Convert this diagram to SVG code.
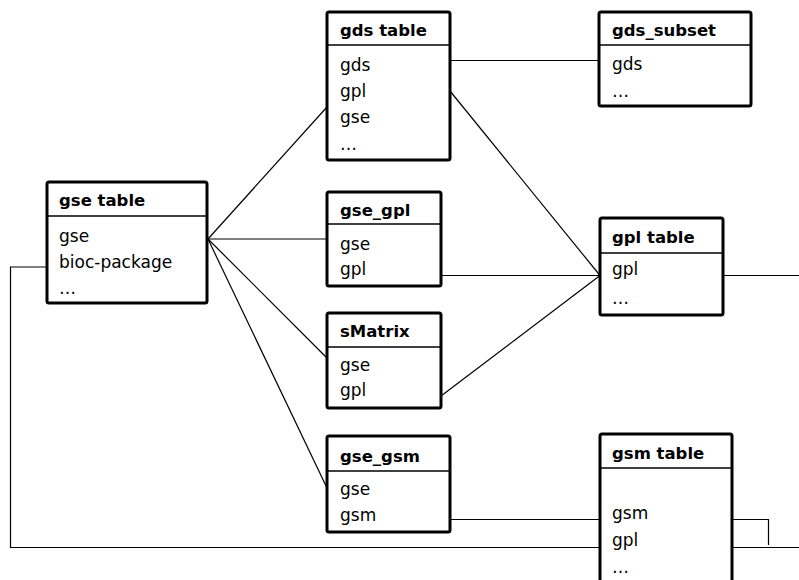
<svg xmlns="http://www.w3.org/2000/svg" width="799" height="580" viewBox="0 0 799 580">
<style>
.box{fill:#fff;stroke:#000;stroke-width:3;}
.div{stroke:#000;stroke-width:1.5;}
.t{font-family:"DejaVu Sans",sans-serif;font-size:16.5px;font-weight:bold;fill:#000;}
.f{font-family:"DejaVu Sans",sans-serif;font-size:17px;fill:#000;}
.c{fill:none;stroke:#000;stroke-width:1.2;}
</style>
<rect width="799" height="580" fill="#fff"/>
<g id="connectors">
<path class="c" d="M47,267 H10.5 V547.5 H600"/>
<path class="c" d="M732,547.5 H799"/>
<path class="c" d="M732,519.5 H768.5 V545"/>
<path class="c" d="M450,519.5 H600"/>
<path class="c" d="M450,60.5 H599"/>
<path class="c" d="M208,239 L327,107"/>
<path class="c" d="M208,239 H327"/>
<path class="c" d="M208,239 L327,358"/>
<path class="c" d="M208,239 L327,488"/>
<path class="c" d="M450,91 L600,275.5"/>
<path class="c" d="M441,275.5 H600"/>
<path class="c" d="M441,396 L600,275.5"/>
<path class="c" d="M723,275.5 H799"/>
</g>
<g id="gse_table">
<rect class="box" x="47" y="182" width="160" height="121" rx="2"/>
<line class="div" x1="47" y1="216" x2="207" y2="216"/>
<text class="t" x="59" y="206">gse table</text>
<text class="f" x="59" y="242">gse</text>
<text class="f" x="59" y="268">bioc-package</text>
<text class="f" x="59" y="294">…</text>
</g>
<g id="gds_table">
<rect class="box" x="327" y="12" width="123" height="148" rx="2"/>
<line class="div" x1="327" y1="45" x2="450" y2="45"/>
<text class="t" x="340" y="36">gds table</text>
<text class="f" x="340" y="71">gds</text>
<text class="f" x="340" y="97">gpl</text>
<text class="f" x="340" y="123">gse</text>
<text class="f" x="340" y="150">…</text>
</g>
<g id="gds_subset">
<rect class="box" x="599" y="12" width="152" height="94" rx="2"/>
<line class="div" x1="599" y1="45" x2="751" y2="45"/>
<text class="t" x="612" y="36">gds_subset</text>
<text class="f" x="612" y="70">gds</text>
<text class="f" x="612" y="97">…</text>
</g>
<g id="gse_gpl">
<rect class="box" x="327" y="192" width="114" height="94" rx="2"/>
<line class="div" x1="327" y1="224" x2="441" y2="224"/>
<text class="t" x="340" y="216">gse_gpl</text>
<text class="f" x="340" y="250">gse</text>
<text class="f" x="340" y="275">gpl</text>
</g>
<g id="sMatrix">
<rect class="box" x="327" y="313" width="114" height="95" rx="2"/>
<line class="div" x1="327" y1="347" x2="441" y2="347"/>
<text class="t" x="340" y="337">sMatrix</text>
<text class="f" x="340" y="371">gse</text>
<text class="f" x="340" y="396">gpl</text>
</g>
<g id="gpl_table">
<rect class="box" x="600" y="218" width="123" height="97" rx="2"/>
<line class="div" x1="600" y1="253" x2="723" y2="253"/>
<text class="t" x="612" y="243">gpl table</text>
<text class="f" x="612" y="275">gpl</text>
<text class="f" x="612" y="304">…</text>
</g>
<g id="gse_gsm">
<rect class="box" x="327" y="436" width="123" height="96" rx="2"/>
<line class="div" x1="327" y1="471" x2="450" y2="471"/>
<text class="t" x="340" y="462">gse_gsm</text>
<text class="f" x="340" y="495">gse</text>
<text class="f" x="340" y="521">gsm</text>
</g>
<g id="gsm_table">
<rect class="box" x="600" y="434" width="132" height="170" rx="2"/>
<line class="div" x1="600" y1="468" x2="732" y2="468"/>
<text class="t" x="612" y="459">gsm table</text>
<text class="f" x="612" y="519">gsm</text>
<text class="f" x="612" y="546">gpl</text>
<text class="f" x="612" y="573">…</text>
</g>
</svg>
